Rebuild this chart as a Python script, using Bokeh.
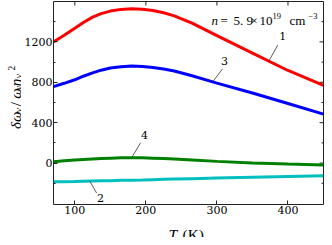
import numpy as np
from bokeh.plotting import figure
from bokeh.layouts import row, column
from bokeh.models import Label, FixedTicker, Range1d
from bokeh.embed import file_html
from bokeh.resources import INLINE

# ---- data ----
T = [70, 85, 100, 112, 125, 137, 150, 165, 180, 195, 210, 225, 240, 265, 300, 350, 400, 450]
curve1 = [1200, 1265, 1335, 1392, 1445, 1480, 1505, 1522, 1528, 1524, 1511, 1488, 1458,
          1385, 1263, 1088, 917, 770]
curve3 = [757, 790, 825, 860, 893, 920, 942, 955, 961, 957, 947, 932, 912,
          865, 792, 694, 590, 485]
curve4 = [14, 22, 30, 36, 41, 45, 49, 52, 53, 52, 49, 45, 40, 31, 17, 2, -10, -18]
curve2 = [-185, -184, -182, -180, -178, -176, -174, -171, -169, -167, -164, -161, -158,
          -154, -148, -140, -133, -126]
x_ticks = [100, 200, 300, 400]
y_ticks = [0, 400, 800, 1200]
y_minor = [-200, 200, 600, 1000, 1400]
curve_names = ["1", "2", "3", "4"]
label_T = [373, 121, 294, 180]   # where leader lines touch the curves

X0, X1 = 70, 450
Y0, Y1 = -410, 1600

# ---- layout (canvas pixels) ----
TOTAL_W, TOTAL_H = 324, 237
YW = 21                  # y-label strip width
MW = TOTAL_W - YW        # main figure width
MH = 218                 # main figure height
XH = TOTAL_H - MH        # x-label strip height
F_LEFT, F_RIGHT, F_TOP, F_BOTTOM = 50, 323, 1, 204   # frame edges (canvas coords)

DX = (X1 - X0) / (F_RIGHT - F_LEFT)   # data per px
DY = (Y1 - Y0) / (F_BOTTOM - F_TOP)

SERIF = "DejaVu Serif"
MATH = "Liberation Serif"
TICKC = "#222222"

p = figure(width=MW, height=MH, output_backend="svg", toolbar_location=None,
           title=None,
           x_range=Range1d(X0, X1), y_range=Range1d(Y0, Y1),
           min_border_left=F_LEFT - YW, min_border_right=TOTAL_W - F_RIGHT,
           min_border_top=F_TOP, min_border_bottom=MH - F_BOTTOM)
p.background_fill_color = "white"
p.border_fill_color = "white"
p.outline_line_color = TICKC
p.outline_line_width = 1
p.grid.visible = False

for ax in (p.xaxis[0], p.yaxis[0]):
    ax.axis_line_color = None
    ax.major_tick_in = 4
    ax.major_tick_out = 0
    ax.minor_tick_in = 2
    ax.minor_tick_out = 0
    ax.major_tick_line_color = TICKC
    ax.minor_tick_line_color = TICKC
    ax.major_label_text_font = SERIF
    ax.major_label_text_font_size = "11px"
    ax.major_label_text_color = "black"
    ax.major_label_standoff = 1

p.xaxis[0].ticker = FixedTicker(ticks=x_ticks, minor_ticks=[])
p.yaxis[0].ticker = FixedTicker(ticks=y_ticks, minor_ticks=y_minor)

# mirrored ticks on the top and right edges (from the tick lists)
xt = np.array(x_ticks, dtype=float)
p.segment(xt, np.full(len(xt), Y1), xt, np.full(len(xt), Y1 - 4 * DY),
          line_color=TICKC, line_width=1)
yt = np.array(y_ticks, dtype=float)
p.segment(np.full(len(yt), X1), yt, np.full(len(yt), X1 - 4 * DX), yt,
          line_color=TICKC, line_width=1)
ym = np.array(y_minor, dtype=float)
p.segment(np.full(len(ym), X1), ym, np.full(len(ym), X1 - 2 * DX), ym,
          line_color=TICKC, line_width=1)

colors = ["#ff0000", "#00bfbf", "#0000ff", "#008000"]
series = [curve1, curve2, curve3, curve4]
for s, c in zip(series, colors):
    p.line(T, s, line_color=c, line_width=3)

# curve number labels with leader lines (offsets in px)
lead_off = [(9, -16), (7, 12), (10, -13), (9, -15)]
text_off = [(14, -25), (11, 17), (12, -21), (13, -23)]
x0s, y0s, x1s, y1s = [], [], [], []
for name, s, tx, lo, to in zip(curve_names, series, label_T, lead_off, text_off):
    yv = float(np.interp(tx, T, s))
    x0s.append(tx)
    y0s.append(yv)
    x1s.append(tx + lo[0] * DX)
    y1s.append(yv - lo[1] * DY)
    p.add_layout(Label(x=tx + to[0] * DX, y=yv - to[1] * DY, text=name,
                       text_font=SERIF, text_font_size="11px",
                       text_align="center", text_baseline="middle",
                       text_color="black"))
p.segment(x0s, y0s, x1s, y1s, line_color="#333333", line_width=0.8)


def lab(fig, text, px, py, size, italic=False, angle=0.0, font=MATH, screen=None):
    kw = dict(text=text, angle=angle, text_font=font, text_font_size=size,
              text_font_style="italic" if italic else "normal",
              text_align="left", text_baseline="alphabetic", text_color="black")
    if screen is not None:
        fl, fb = screen
        kw.update(x=px - fl, y=fb - py, x_units="screen", y_units="screen")
    else:
        kw.update(x=px, y=py)
    fig.add_layout(Label(**kw))


# density annotation (inside the main frame; screen units from frame bottom-left)
scr = (F_LEFT, F_BOTTOM)
lab(p, "n", 208, 20, "13px", italic=True, screen=scr)
lab(p, "=", 217, 20, "13px", screen=scr)
lab(p, "5. 9", 230, 20, "13px", screen=scr)
lab(p, "×", 247, 20, "13px", screen=scr)
lab(p, "10", 256, 20, "13px", screen=scr)
lab(p, "19", 269, 15.5, "8.5px", screen=scr)
lab(p, "cm", 286, 20, "13px", screen=scr)
lab(p, "−3", 305, 15.5, "8.5px", screen=scr)


def strip(w, h, xr, yr):
    f = figure(width=w, height=h, output_backend="svg", toolbar_location=None,
               title=None,
               x_range=Range1d(*xr), y_range=Range1d(*yr),
               x_axis_location=None, y_axis_location=None,
               min_border=0, min_border_left=0, min_border_right=0,
               min_border_top=0, min_border_bottom=0)
    f.outline_line_color = None
    f.grid.visible = False
    f.background_fill_color = "white"
    f.border_fill_color = "white"
    return f


# y-label strip: data coords = canvas pixels (y reversed)
yl = strip(YW, MH, (0, YW), (MH, 0))
A = np.pi / 2
MB, SB, PB = 15.5, 18.5, 11.0   # baselines: main, subscript, superscript
lab(yl, "δω", MB, 137, "15px", italic=True, angle=A)
lab(yl, "ν", SB, 119, "9.5px", italic=True, angle=A)
lab(yl, "/", MB, 112.5, "15px", angle=A)
lab(yl, "ω", MB, 104.5, "15px", italic=True, angle=A)
lab(yl, "ν", SB, 95, "9.5px", italic=True, angle=A)
lab(yl, "η", MB, 91, "15px", italic=True, angle=A)
lab(yl, "ν", SB, 82.5, "9.5px", italic=True, angle=A)
lab(yl, "2", PB, 74, "9.5px", angle=A)

# x-label strip
xl = strip(TOTAL_W, XH, (0, TOTAL_W), (TOTAL_H, MH))
lab(xl, "T", 168, 233.5, "15.5px", italic=True)
lab(xl, "(K)", 182, 233.5, "15.5px")

layout = column(row(yl, p), xl)
open("out.html", "w").write(file_html(layout, INLINE))
